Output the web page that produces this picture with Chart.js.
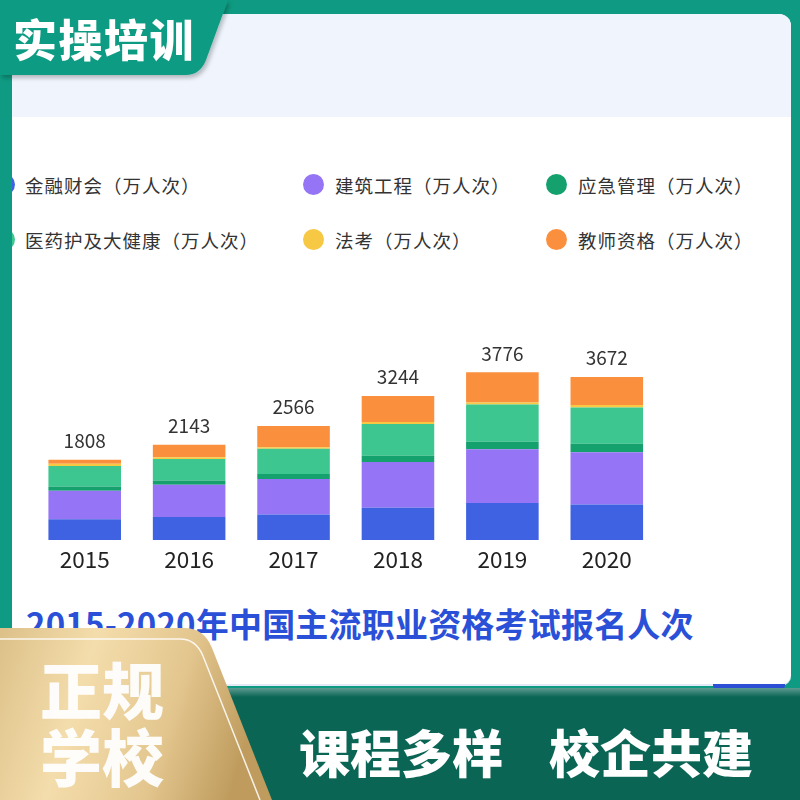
<!DOCTYPE html>
<html>
<head>
<meta charset="utf-8">
<script src="https://cdn.jsdelivr.net/npm/chart.js@4.4.0/dist/chart.umd.min.js"></script>
<style>
  html, body { margin: 0; padding: 0; }
  body { width: 800px; height: 800px; position: relative; overflow: hidden; background: #0f9b83; font-family: "Noto Sans CJK SC", "Noto Sans", sans-serif; }
  #card { position: absolute; left: 12px; top: 14px; width: 779px; height: 672px; background: #fff; border-radius: 0 12px 10px 0; overflow: hidden; border-bottom: 2px solid #e3eaf6; box-sizing: border-box; }
  #card .head { position: absolute; left: 0; top: 0; width: 100%; height: 103px; background: #eff4fd; }
  #leftFrame { position: absolute; left: 0; top: 0; width: 12px; height: 700px; background: #0f9b83; z-index: 5; }
  #legend { position: absolute; left: 0; top: 0; width: 800px; height: 300px; z-index: 2; }
  .lg { position: absolute; height: 24px; font-size: 18.5px; color: #333; line-height: 24px; white-space: nowrap; letter-spacing: 1px; }
  .lg i { position: absolute; width: 21px; height: 21px; border-radius: 50%; top: 1px; }
  #chart { position: absolute; left: 0; top: 300px; z-index: 3; }
  #title { position: absolute; left: 26px; top: 602px; font-size: 33px; font-weight: 700; color: #2b50d8; line-height: 42px; white-space: nowrap; z-index: 3; letter-spacing: 0.2px; }
  #tab { position: absolute; left: 713px; top: 684px; width: 72px; height: 5px; background: #2c4fd6; border-radius: 0 0 4px 4px; z-index: 4; }
  #band { position: absolute; left: 0; top: 688px; width: 800px; height: 112px; background: linear-gradient(#5e9b91 0px, #0b6555 9px, #0b6555 100%); z-index: 4; }
  #deco { position: absolute; left: 0; top: 0; z-index: 6; }
  .big { position: absolute; color: #fff; font-weight: 900; white-space: nowrap; z-index: 7; }
</style>
</head>
<body>
<div id="card"><div class="head"></div></div>
<div id="legend"></div>
<canvas id="chart" width="700" height="290"></canvas>
<div id="title">2015-2020年中国主流职业资格考试报名人次</div>
<div id="tab"></div>
<div id="band"></div>
<div id="leftFrame"></div>
<svg id="deco" width="800" height="800">
  <defs>
    <linearGradient id="gold" x1="0" y1="0" x2="1" y2="0.2">
      <stop offset="0" stop-color="#dcc088"/>
      <stop offset="0.35" stop-color="#f4ddac"/>
      <stop offset="0.7" stop-color="#e3c68e"/>
      <stop offset="1" stop-color="#bf9c5e"/>
    </linearGradient>
    <filter id="sh" x="-10%" y="-10%" width="130%" height="140%">
      <feDropShadow dx="2" dy="3" stdDeviation="2" flood-color="#000" flood-opacity="0.25"/>
    </filter>
  </defs>
  <path d="M0,0 L228,0 L206,60 Q200,75 186,75 L0,75 Z" fill="#0f9b83" filter="url(#sh)"/>
  <path d="M0,628 L184,628 Q204,628 212,648 L272,800 L0,800 Z" fill="url(#gold)"/>
  <path d="M0,639 L180,639 Q196,639 203,656 L260,800" fill="none" stroke="#fff" stroke-opacity="0.85" stroke-width="1.5"/>
</svg>
<div class="big" style="left:13px; top:12px; font-size:44px; line-height:52px; letter-spacing:1.5px;">实操培训</div>
<div class="big" style="left:40px; top:654px; font-size:62px; line-height:68px; opacity:0.95;">正规</div>
<div class="big" style="left:40px; top:721px; font-size:62px; line-height:68px; opacity:0.95;">学校</div>
<div class="big" style="left:299px; top:720px; font-size:51px; line-height:62px;">课程多样</div>
<div class="big" style="left:549px; top:720px; font-size:51px; line-height:62px;">校企共建</div>
<script>
const years = ['2015', '2016', '2017', '2018', '2019', '2020'];
const seriesNames = ['金融财会（万人次）', '建筑工程（万人次）', '应急管理（万人次）', '医药护及大健康（万人次）', '法考（万人次）', '教师资格（万人次）'];
const finance = [470, 517, 575, 729, 831, 801];
const construction = [642, 729, 799, 1029, 1213, 1173];
const emergency = [91, 95, 113, 139, 171, 194];
const medical = [463, 486, 566, 713, 837, 814];
const law = [52, 38, 38, 46, 44, 60];
const teacher = [90, 278, 475, 588, 680, 630];
const totals = [1808, 2143, 2566, 3244, 3776, 3672];
const colors = ['#3f62e2', '#9575f5', '#15a16d', '#3dc68f', '#f6c843', '#fa8f3e'];

const seriesValues = [finance, construction, emergency, medical, law, teacher];

// html legend in 3 columns x 2 rows
const legendEl = document.getElementById('legend');
const colX = [[-6, 25], [303, 335], [546, 578]];
const rowY = [173, 228];
seriesNames.forEach((name, i) => {
  const col = i % 3, row = Math.floor(i / 3);
  const dot = document.createElement('div');
  dot.className = 'lg';
  dot.style.left = colX[col][0] + 'px';
  dot.style.top = rowY[row] + 'px';
  dot.innerHTML = '<i style="background:' + colors[i] + '"></i>';
  legendEl.appendChild(dot);
  const txt = document.createElement('div');
  txt.className = 'lg';
  txt.style.left = colX[col][1] + 'px';
  txt.style.top = rowY[row] + 'px';
  txt.textContent = name;
  legendEl.appendChild(txt);
});

// totals above each stack
const totalLabels = {
  id: 'totalLabels',
  afterDatasetsDraw(chart) {
    const ctx = chart.ctx;
    const meta = chart.getDatasetMeta(chart.data.datasets.length - 1);
    ctx.save();
    ctx.font = '19px "Noto Sans CJK SC", sans-serif';
    ctx.fillStyle = '#333';
    ctx.textAlign = 'center';
    ctx.textBaseline = 'middle';
    meta.data.forEach((bar, i) => {
      ctx.fillText(String(totals[i]), bar.x, bar.y - 19);
    });
    ctx.restore();
  }
};

new Chart(document.getElementById('chart'), {
  type: 'bar',
  data: {
    labels: years,
    datasets: seriesNames.map((name, i) => ({
      label: name,
      data: seriesValues[i],
      backgroundColor: colors[i],
      borderWidth: 0,
      categoryPercentage: 1,
      barPercentage: 0.695
    }))
  },
  options: {
    responsive: false,
    animation: false,
    devicePixelRatio: 1,
    layout: { padding: { left: 32.5, right: 41, top: 18, bottom: 11 } },
    plugins: { legend: { display: false }, tooltip: { enabled: false } },
    scales: {
      x: {
        stacked: true,
        grid: { display: false, drawTicks: false },
        border: { display: false },
        ticks: { color: '#222', padding: 6, font: { size: 22.5, family: '"Noto Sans CJK SC", sans-serif' } }
      },
      y: {
        stacked: true,
        display: false,
        min: 0,
        max: 5000
      }
    }
  },
  plugins: [totalLabels]
});
</script>
</body>
</html>
